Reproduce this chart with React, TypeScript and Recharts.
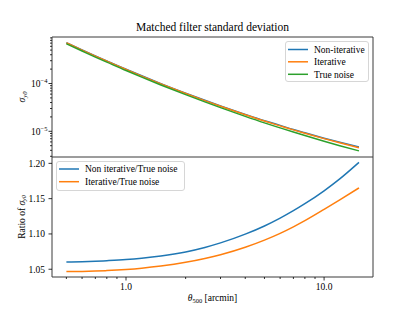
import { LineChart, Line, XAxis, YAxis, Legend, ReferenceArea } from "recharts";

// θ500 sample points [arcmin]
const THETA = [0.5, 0.6, 0.7, 0.8, 1, 1.2, 1.5, 2, 2.5, 3, 4, 5, 6, 7, 8, 10, 12, 15];

// matched filter standard deviation
const SIGMA_NON_ITER = [
  7.19e-4, 5.07e-4, 3.79e-4, 2.97e-4, 1.986e-4, 1.45e-4, 9.96e-5, 6.28e-5, 4.45e-5,
  3.4e-5, 2.26e-5, 1.67e-5, 1.33e-5, 1.09e-5, 9.31e-6, 7.19e-6, 5.89e-6, 4.68e-6,
];
const SIGMA_ITER = [
  7.1e-4, 5.0e-4, 3.74e-4, 2.93e-4, 1.96e-4, 1.43e-4, 9.83e-5, 6.19e-5, 4.39e-5,
  3.35e-5, 2.22e-5, 1.64e-5, 1.3e-5, 1.07e-5, 9.11e-6, 7.03e-6, 5.74e-6, 4.54e-6,
];
const SIGMA_TRUE = [
  6.78e-4, 4.78e-4, 3.57e-4, 2.8e-4, 1.867e-4, 1.36e-4, 9.32e-5, 5.84e-5, 4.12e-5,
  3.13e-5, 2.05e-5, 1.5e-5, 1.18e-5, 9.64e-6, 8.14e-6, 6.2e-6, 5.0e-6, 3.9e-6,
];

// ratios, lower panel
const RATIO_NON_ITER = [
  1.0604, 1.0607, 1.0613, 1.0621, 1.0637, 1.0656, 1.0687, 1.0745, 1.0809,
  1.0873, 1.0997, 1.1113, 1.1224, 1.1329, 1.1428, 1.1611, 1.178, 1.2014,
];
const RATIO_ITER = [
  1.0467, 1.0469, 1.0474, 1.0481, 1.0497, 1.0515, 1.0545, 1.0598, 1.0653,
  1.0706, 1.0812, 1.0913, 1.1009, 1.1101, 1.1188, 1.1348, 1.1483, 1.1652,
];

const TOP_NAMES = ["Non-iterative", "Iterative", "True noise"];
const BOTTOM_NAMES = ["Non iterative/True noise", "Iterative/True noise"];

const X_DOMAIN = [0.423, 17.66];
const SIGMA_DOMAIN = [2.9e-6, 9.4e-4];
const RATIO_DOMAIN = [1.039, 1.209];

const X_TICKS = [0.5, 0.6, 0.7, 0.8, 0.9, 1, 2, 3, 4, 5, 6, 7, 8, 9, 10];
const X_MAJOR_LABELS: Record<number, string> = { 1: "1.0", 10: "10.0" };
const SIGMA_TICKS = [
  3e-6, 4e-6, 5e-6, 6e-6, 7e-6, 8e-6, 9e-6, 1e-5, 2e-5, 3e-5, 4e-5, 5e-5, 6e-5, 7e-5,
  8e-5, 9e-5, 1e-4, 2e-4, 3e-4, 4e-4, 5e-4, 6e-4, 7e-4, 8e-4, 9e-4,
];
const RATIO_TICKS = [1.05, 1.1, 1.15, 1.2];

const BLUE = "#1f77b4";
const ORANGE = "#ff7f0e";
const GREEN = "#2ca02c";
const FONT = '"Liberation Serif", "DejaVu Serif", serif';
const FRAME = "#3a3a3a";
const txt = { fontFamily: FONT };

const sigmaData = THETA.map((x, i) => ({
  x,
  nonIter: SIGMA_NON_ITER[i],
  iter: SIGMA_ITER[i],
  truth: SIGMA_TRUE[i],
}));
const ratioData = THETA.map((x, i) => ({
  x,
  nonIter: RATIO_NON_ITER[i],
  iter: RATIO_ITER[i],
}));

const isDecade = (v: number) => Math.abs(Math.log10(v) - Math.round(Math.log10(v))) < 1e-6;

const XTick = (props: any) => {
  const { x, y, payload } = props;
  const label = X_MAJOR_LABELS[payload.value];
  const major = label !== undefined;
  return (
    <g>
      <line x1={x} x2={x} y1={y} y2={y + (major ? 3.5 : 2)} stroke="#000" strokeWidth={0.8} />
      {major && (
        <text x={x} y={y + 12.5} textAnchor="middle" fontSize={9.5} style={txt} fill="#000">
          {label}
        </text>
      )}
    </g>
  );
};

const SigmaTick = (props: any) => {
  const { x, y, payload } = props;
  const v = payload.value;
  const major = isDecade(v);
  return (
    <g>
      <line x1={x - (major ? 3.5 : 2)} x2={x} y1={y} y2={y} stroke="#000" strokeWidth={0.8} />
      {major && (
        <text x={x - 4.5} y={y + 3.5} textAnchor="end" fontSize={9.5} style={txt} fill="#000">
          10
          <tspan dy={-4} fontSize={6.5}>
            {"\u2212" + Math.abs(Math.round(Math.log10(v)))}
          </tspan>
        </text>
      )}
    </g>
  );
};

const RatioTick = (props: any) => {
  const { x, y, payload } = props;
  return (
    <g>
      <line x1={x - 3.5} x2={x} y1={y} y2={y} stroke="#000" strokeWidth={0.8} />
      <text x={x - 7} y={y + 3.3} textAnchor="end" fontSize={9.5} style={txt} fill="#000">
        {payload.value.toFixed(2)}
      </text>
    </g>
  );
};

function LegendBox({ payload, order, width, height, rows }: any) {
  const items = [...(payload || [])].sort((a: any, b: any) => order.indexOf(a.value) - order.indexOf(b.value));
  return (
    <div
      style={{
        width,
        height,
        boxSizing: "border-box",
        border: "1px solid #d6d6d6",
        borderRadius: 3,
        background: "rgba(255,255,255,0.8)",
      }}
    >
      <svg width={width - 2} height={height - 2} style={{ display: "block" }}>
        {items.map((p: any, i: number) => (
          <g key={p.value}>
            <line x1={2} x2={22} y1={rows[i]} y2={rows[i]} stroke={p.color} strokeWidth={1.5} />
            <text x={28} y={rows[i] + 3.2} fontSize={9.5} style={txt} fill="#000">
              {p.value}
            </text>
          </g>
        ))}
      </svg>
    </div>
  );
}

export default function App() {
  return (
    <div style={{ position: "absolute", left: 0, top: 0, width: 415, height: 311, background: "#fff" }}>
      <div style={{ position: "absolute", left: 0, top: 0 }}>
        <LineChart width={415} height={157} data={sigmaData} margin={{ top: 37, right: 42, bottom: 0, left: 2 }}>
          <XAxis dataKey="x" type="number" scale="log" domain={X_DOMAIN} allowDataOverflow hide />
          <YAxis
            type="number"
            scale="log"
            domain={SIGMA_DOMAIN}
            allowDataOverflow
            width={50}
            ticks={SIGMA_TICKS}
            interval={0}
            tick={<SigmaTick />}
            tickLine={false}
            axisLine={false}
            tickSize={0}
            tickMargin={0}
          />
          <ReferenceArea
            x1={X_DOMAIN[0]}
            x2={X_DOMAIN[1]}
            y1={SIGMA_DOMAIN[0]}
            y2={SIGMA_DOMAIN[1]}
            fill="none"
            stroke={FRAME}
            strokeWidth={1}
          />
          <Line dataKey="nonIter" name={TOP_NAMES[0]} type="monotone" stroke={BLUE} strokeWidth={1.5} dot={false} isAnimationActive={false} />
          <Line dataKey="iter" name={TOP_NAMES[1]} type="monotone" stroke={ORANGE} strokeWidth={1.5} dot={false} isAnimationActive={false} />
          <Line dataKey="truth" name={TOP_NAMES[2]} type="monotone" stroke={GREEN} strokeWidth={1.5} dot={false} isAnimationActive={false} />
          <Legend
            layout="vertical"
            align="center"
            verticalAlign="middle"
            wrapperStyle={{ left: 285, top: 41, width: 84, height: 41 }}
            content={(p: any) => (
              <LegendBox payload={p.payload} order={TOP_NAMES} width={84} height={41} rows={[7.5, 19.8, 32.3]} />
            )}
          />
        </LineChart>
      </div>
      <div style={{ position: "absolute", left: 0, top: 157 }}>
        <LineChart width={415} height={154} data={ratioData} margin={{ top: 0, right: 42, bottom: 0, left: 2 }}>
          <XAxis
            dataKey="x"
            type="number"
            scale="log"
            domain={X_DOMAIN}
            allowDataOverflow
            height={34}
            ticks={X_TICKS}
            interval={0}
            tick={<XTick />}
            tickLine={false}
            axisLine={false}
            tickSize={0}
            tickMargin={0}
          />
          <YAxis
            type="number"
            domain={RATIO_DOMAIN}
            allowDataOverflow
            width={50}
            ticks={RATIO_TICKS}
            interval={0}
            tick={<RatioTick />}
            tickLine={false}
            axisLine={false}
            tickSize={0}
            tickMargin={0}
          />
          <ReferenceArea
            x1={X_DOMAIN[0]}
            x2={X_DOMAIN[1]}
            y1={RATIO_DOMAIN[0]}
            y2={RATIO_DOMAIN[1]}
            fill="none"
            stroke={FRAME}
            strokeWidth={1}
          />
          <Line dataKey="nonIter" name={BOTTOM_NAMES[0]} type="monotone" stroke={BLUE} strokeWidth={1.5} dot={false} isAnimationActive={false} />
          <Line dataKey="iter" name={BOTTOM_NAMES[1]} type="monotone" stroke={ORANGE} strokeWidth={1.5} dot={false} isAnimationActive={false} />
          <Legend
            layout="vertical"
            align="center"
            verticalAlign="middle"
            wrapperStyle={{ left: 56, top: 4, width: 129, height: 30 }}
            content={(p: any) => (
              <LegendBox payload={p.payload} order={BOTTOM_NAMES} width={129} height={30} rows={[7, 19.7]} />
            )}
          />
        </LineChart>
      </div>
      <svg width={415} height={311} style={{ position: "absolute", left: 0, top: 0, pointerEvents: "none" }}>
        <text x={212.5} y={31} textAnchor="middle" fontSize={11.5} style={txt} fill="#000">
          Matched filter standard deviation
        </text>
        <text x={22} y={97} transform="rotate(-90 22 97)" textAnchor="middle" dominantBaseline="central" fontSize={9.5} style={txt} fill="#000">
          <tspan fontStyle="italic">σ</tspan>
          <tspan dy={2} fontSize={6.5} fontStyle="italic">y0</tspan>
        </text>
        <text x={22} y={217} transform="rotate(-90 22 217)" textAnchor="middle" dominantBaseline="central" fontSize={9.5} style={txt} fill="#000">
          Ratio of <tspan fontStyle="italic">σ</tspan>
          <tspan dy={2} fontSize={6} fontStyle="italic">y0</tspan>
        </text>
        <text x={212.5} y={301} textAnchor="middle" fontSize={9.5} style={txt} fill="#000">
          <tspan fontStyle="italic">θ</tspan>
          <tspan dy={2} fontSize={6.5}>500</tspan>
          <tspan dy={-2}> [arcmin]</tspan>
        </text>
      </svg>
    </div>
  );
}
